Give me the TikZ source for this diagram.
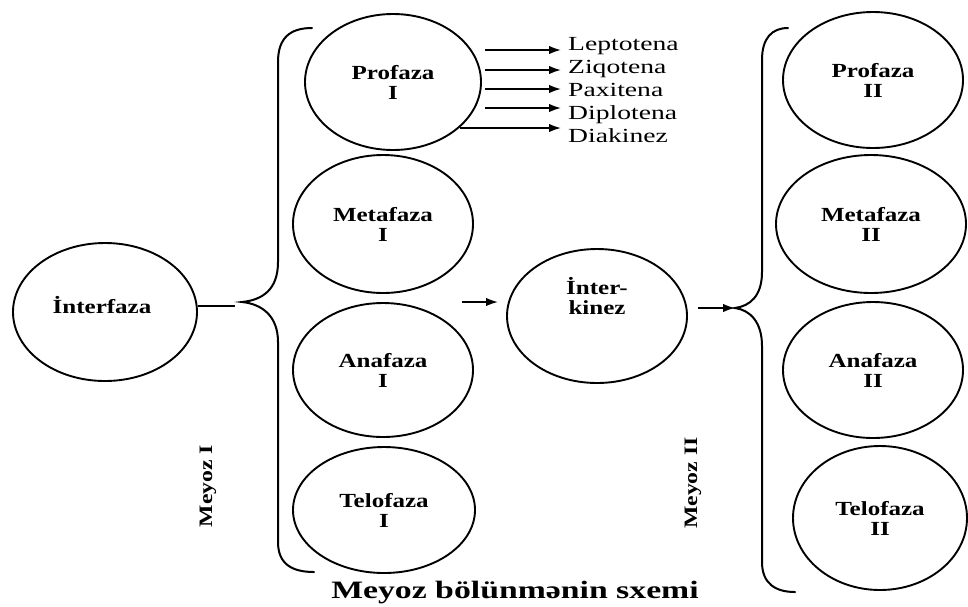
\documentclass[tikz,border=0pt]{standalone}
\usepackage{fontspec}
\setmainfont{Liberation Serif}
\newfontfamily\nf{Liberation Serif}[FakeStretch=1.25]
\newfontfamily\lf{Liberation Serif}[FakeStretch=1.38]
\newfontfamily\cf{Liberation Serif}[FakeStretch=1.35]
\usetikzlibrary{shapes.geometric,arrows.meta}

\tikzset{
  phase/.style={ellipse, draw, line width=1.9pt, inner sep=0pt, align=center,
    font=\nf\bfseries\fontsize{20}{20}\selectfont},
  txt/.style={inner sep=0pt, align=center, font=\nf\bfseries\fontsize{20}{20}\selectfont},
  stage/.style={inner sep=0pt, anchor=base west, font=\lf\fontsize{20}{20}\selectfont},
  side/.style={inner sep=0pt, rotate=90, font=\nf\bfseries\fontsize{19}{19}\selectfont},
  brace/.style={line width=2pt, line cap=round},
  arr/.style={line width=1.8pt, -{Latex[length=12pt,width=8.5pt]}},
  link/.style={line width=1.5pt}
}

\begin{document}
\begin{tikzpicture}[x=1pt,y=-1pt]
\useasboundingbox (0,0) rectangle (968,606);

% interphase
\node[phase, minimum width=184pt, minimum height=138pt] (ifz) at (105,312) {};
\node[txt] (ifzt) at (102,305) {İnterfaza};

% meiosis I phases
\node[phase, minimum width=176pt, minimum height=136pt] (pro1) at (393,82) {Profaza\\I};
\node[phase, minimum width=180pt, minimum height=138pt] (met1) at (383,224) {Metafaza\\I};
\node[phase, minimum width=180pt, minimum height=134pt] (ana1) at (383,370) {Anafaza\\I};
\node[phase, minimum width=182pt, minimum height=126pt] (tel1) at (384,510) {Telofaza\\I};

% interkinesis
\node[phase, minimum width=180pt, minimum height=134pt] (ik) at (597,316) {};
\node[txt] (ikt) at (597,296) {İnter-\\kinez};

% meiosis II phases
\node[phase, minimum width=180pt, minimum height=136pt] (pro2) at (873,80) {Profaza\\II};
\node[phase, minimum width=190pt, minimum height=138pt] (met2) at (871,224) {Metafaza\\II};
\node[phase, minimum width=180pt, minimum height=136pt] (ana2) at (873,370) {Anafaza\\II};
\node[phase, minimum width=174pt, minimum height=144pt] (tel2) at (880,518) {Telofaza\\II};

% prophase I substages
\node[stage] (lep) at (568,50) {Leptotena};
\node[stage] (ziq) at (568,73) {Ziqotena};
\node[stage] (pax) at (568,96) {Paxitena};
\node[stage] (dip) at (568,119) {Diplotena};
\node[stage] (dia) at (568,142) {Diakinez};

\coordinate (s1) at (485,50);
\coordinate (s2) at (485,70);
\coordinate (s3) at (485,89);
\coordinate (s4) at (485,108);
\coordinate (s5) at (460,128);
\draw[arr] (s1) -- ([xshift=-7pt]s1 -| lep.west);
\draw[arr] (s2) -- ([xshift=-7pt]s2 -| ziq.west);
\draw[arr] (s3) -- ([xshift=-7pt]s3 -| pax.west);
\draw[arr] (s4) -- ([xshift=-7pt]s4 -| dip.west);
\draw[arr] (s5) -- ([xshift=-7pt]s5 -| dia.west);

% left brace (meiosis I)
\coordinate (lt) at (312,28);
\coordinate (ltip) at (242,302);
\coordinate (lb) at (314,572);
\draw[brace] (lt) .. controls (290,28) and (278,38) .. (278,62) -- (278,262)
  .. controls (278,290) and (262,300) .. (ltip)
  .. controls (262,304) and (278,316) .. (278,342) -- (278,542)
  .. controls (278,564) and (292,572) .. (lb);

% right brace (meiosis II)
\coordinate (rt) at (788,28);
\coordinate (rtip) at (735,308);
\coordinate (rb) at (795,592);
\draw[brace] (rt) .. controls (772,28) and (762,38) .. (762,60) -- (762,272)
  .. controls (762,296) and (750,306) .. (rtip)
  .. controls (750,310) and (762,322) .. (762,346) -- (762,562)
  .. controls (762,584) and (776,592) .. (rb);

% connectors
\coordinate (ifzend) at (235,306);
\draw[link] (ifz.east |- ifzend) -- (ifzend);
\coordinate (a1) at (462,302);
\coordinate (a2) at (498,302);
\draw[arr] (a1) -- (a2);
\coordinate (ikout) at (698,308);
\draw[arr] (ikout) -- (rtip);

% side labels
\node[side] (m1) at (208,486) {Meyoz I};
\node[side] (m2) at (693,483) {Meyoz II};

% caption
\node[inner sep=0pt, anchor=base, font=\cf\bfseries\fontsize{25}{25}\selectfont] (cap) at (515,598) {Meyoz bölünmənin sxemi};
\end{tikzpicture}
\end{document}
